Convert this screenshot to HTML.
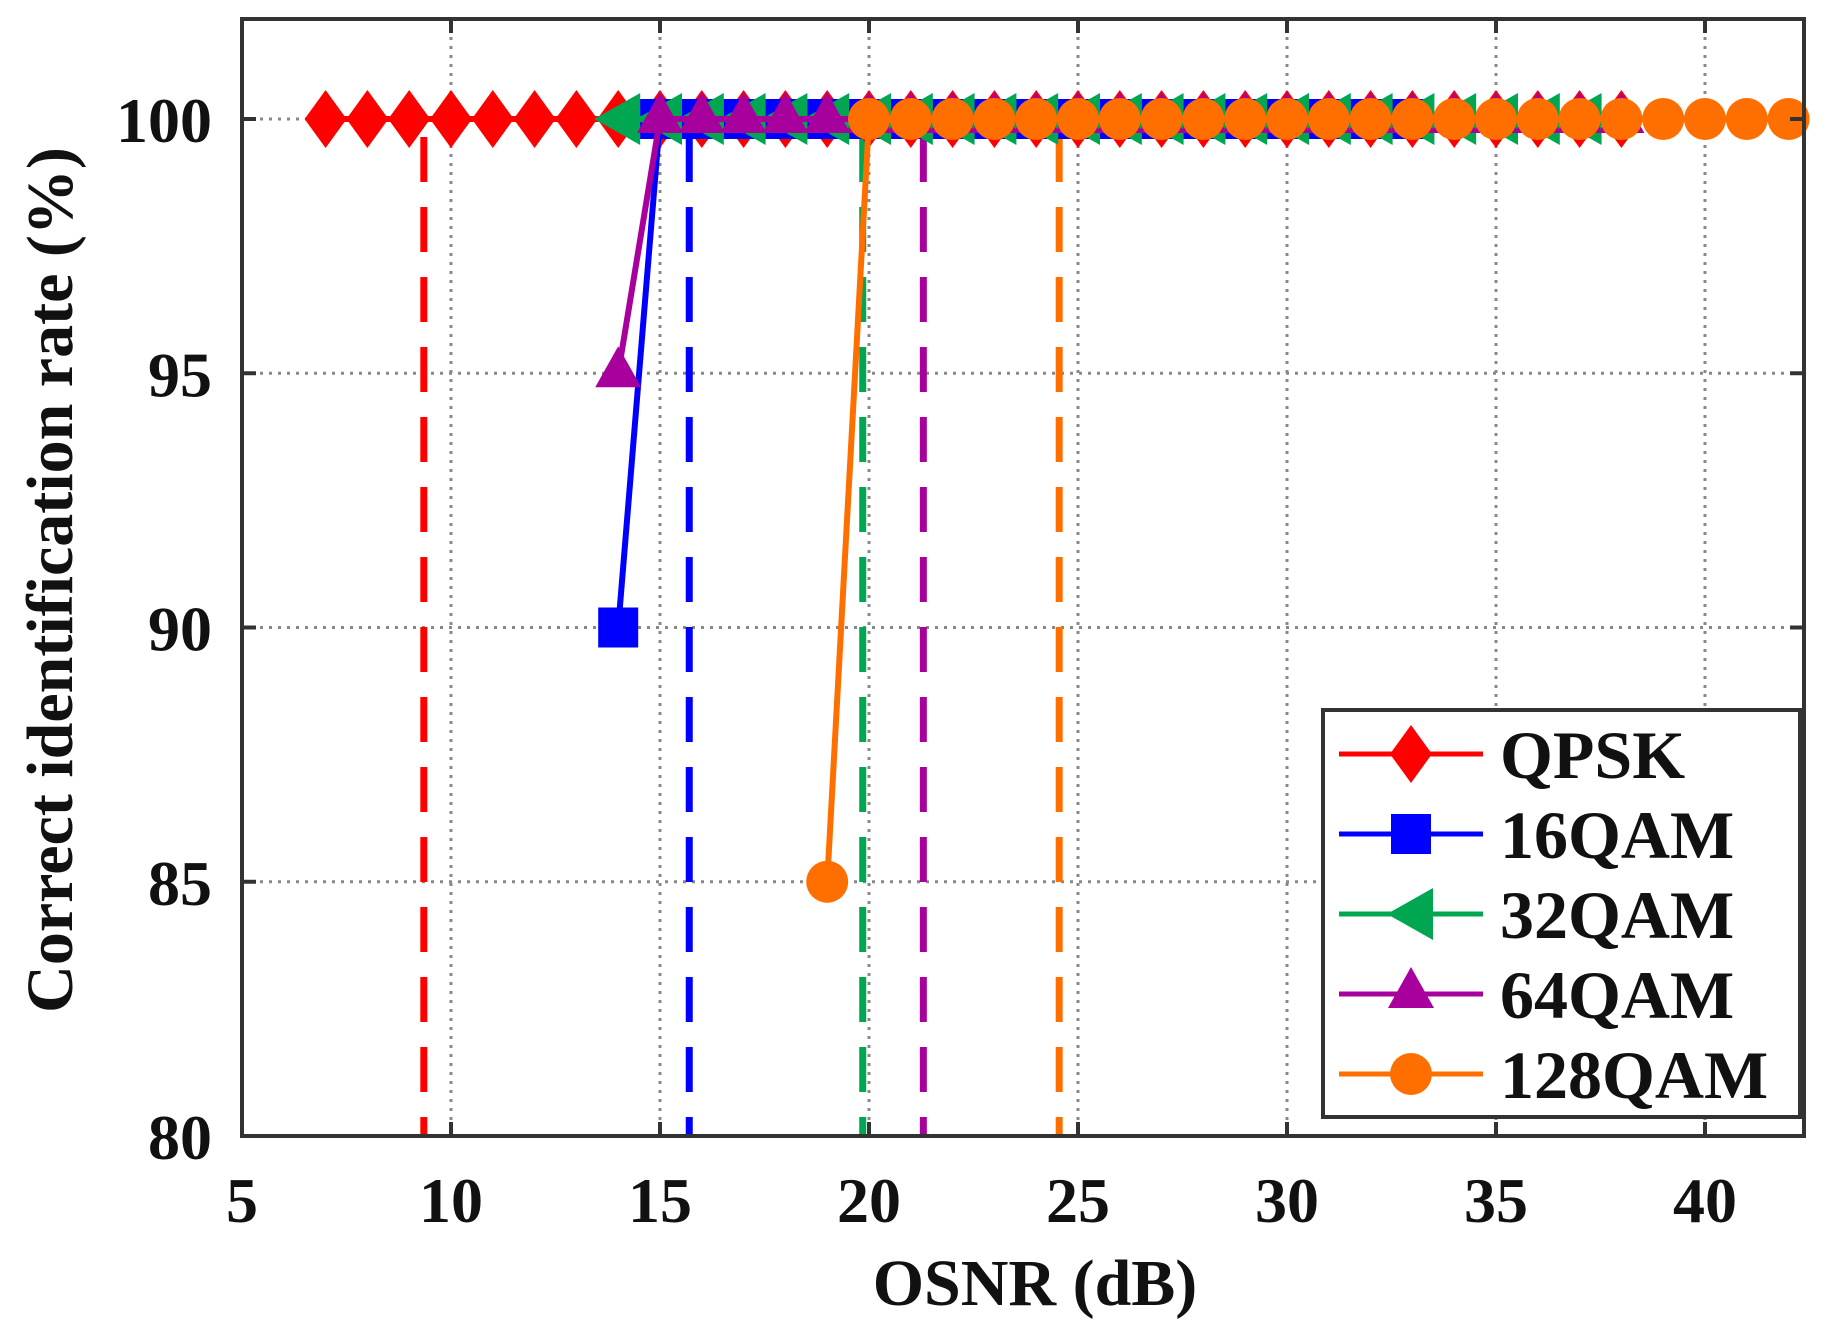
<!DOCTYPE html>
<html><head><meta charset="utf-8"><style>html,body{margin:0;padding:0;background:#fff}svg{display:block}
svg text{font-family:"Liberation Serif","Times New Roman",Times,serif;font-weight:700}</style></head>
<body>
<svg id="s" width="1848" height="1332" xmlns="http://www.w3.org/2000/svg">
<rect width="1848" height="1332" fill="#fff"/>
<g id="grid"></g>
<g id="data"></g>
<rect x="242" y="19" width="1562" height="1117" fill="none" stroke="#333" stroke-width="4"/>
<g id="ticks" font-size="64" fill="#111"></g>
<text x="1035" y="1305" font-size="66" text-anchor="middle" fill="#111">OSNR (dB)</text>
<text transform="translate(72,580) rotate(-90)" font-size="66" text-anchor="middle" fill="#111">Correct identification rate (%)</text>
<rect x="1323" y="710" width="477" height="407" fill="#fff" stroke="#333" stroke-width="4"/>
<g id="leg" font-size="68" fill="#111"></g>
</svg>
<script>
const NS="http://www.w3.org/2000/svg";
const X=v=>242+(v-5)*41.8, Y=v=>119+(100-v)*50.85;
function el(p,t,a,txt){const e=document.createElementNS(NS,t);for(const k in a)e.setAttribute(k,a[k]);if(txt!==undefined)e.textContent=txt;p.appendChild(e);return e;}
const g=document.getElementById('grid'),tk=document.getElementById('ticks'),d=document.getElementById('data'),lg=document.getElementById('leg');
for(let v=10;v<=40;v+=5){el(g,'line',{x1:X(v),x2:X(v),y1:19,y2:1136,stroke:'#888','stroke-width':3,'stroke-dasharray':'3 6'});
 el(tk,'line',{x1:X(v),x2:X(v),y1:1136,y2:1122,stroke:'#333','stroke-width':4});el(tk,'line',{x1:X(v),x2:X(v),y1:19,y2:33,stroke:'#333','stroke-width':4});}
for(let v=5;v<=40;v+=5)el(tk,'text',{x:X(v),y:1222,'text-anchor':'middle'},v);
for(let v=85;v<=100;v+=5){el(g,'line',{x1:242,x2:1804,y1:Y(v),y2:Y(v),stroke:'#888','stroke-width':3,'stroke-dasharray':'3 6'});}
for(let v=80;v<=100;v+=5){el(tk,'line',{x1:242,x2:256,y1:Y(v),y2:Y(v),stroke:'#333','stroke-width':4});el(tk,'line',{x1:1790,x2:1804,y1:Y(v),y2:Y(v),stroke:'#333','stroke-width':4});
 el(tk,'text',{x:212,y:Y(v)+23,'text-anchor':'end'},v);}
const C={q:'#ff0000',b:'#0000ff',g:'#00a650',p:'#a8009c',o:'#ff6f00'};
function mk(p,type,x,y,c){
 if(type=='d')el(p,'polygon',{points:`${x},${y-29} ${x+21},${y} ${x},${y+29} ${x-21},${y}`,fill:c});
 if(type=='s')el(p,'rect',{x:x-20,y:y-20,width:40,height:40,fill:c});
 if(type=='l')el(p,'polygon',{points:`${x-24},${y} ${x+22},${y-26} ${x+22},${y+26}`,fill:c});
 if(type=='t')el(p,'polygon',{points:`${x},${y-27} ${x+23},${y+14} ${x-23},${y+14}`,fill:c});
 if(type=='c')el(p,'circle',{cx:x,cy:y,r:21,fill:c});
}
[[9.35,C.q],[15.7,C.b],[19.85,C.g],[21.3,C.p],[24.55,C.o]].forEach(([v,c])=>el(d,'line',{x1:X(v),x2:X(v),y1:Y(100)+18,y2:1136,stroke:c,'stroke-width':7,'stroke-dasharray':'45 25'}));
const S=[['d',C.q,[[7,100]],7,38],['s',C.b,[[14,90]],15,33],['l',C.g,[],14,37],['t',C.p,[[14,95]],15,38],['c',C.o,[[19,85]],20,42]];
S.forEach(([t,c,pre,a,b])=>{const pts=pre.slice();for(let v=a;v<=b;v++)if(!(pre.length&&pre[0][0]==v&&pre[0][1]==100))pts.push([v,100]);
 el(d,'polyline',{points:pts.map(p=>X(p[0])+','+Y(p[1])).join(' '),fill:'none',stroke:c,'stroke-width':6});
 pts.forEach(p=>mk(d,t,X(p[0]),Y(p[1]),c));});
['QPSK','16QAM','32QAM','64QAM','128QAM'].forEach((n,i)=>{const y=754+80*i,s=S[i];
 el(lg,'line',{x1:1339,x2:1483,y1:y,y2:y,stroke:s[1],'stroke-width':5});mk(lg,s[0],1411,y,s[1]);
 el(lg,'text',{x:1500,y:y+24},n);});
</script>
</body></html>
